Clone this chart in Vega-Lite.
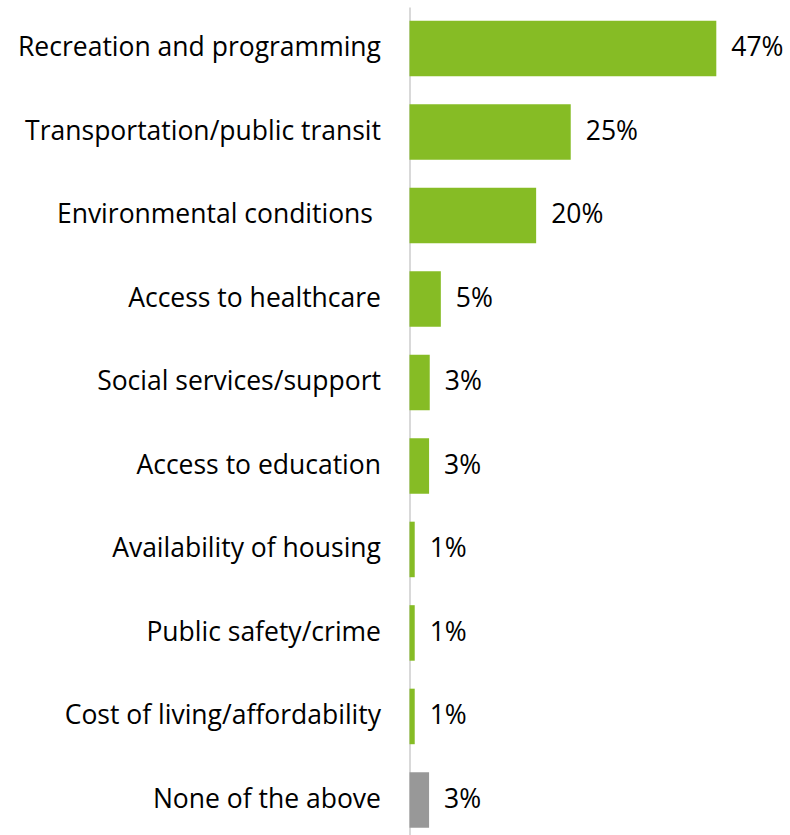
{
  "$schema": "https://vega.github.io/schema/vega-lite/v6.json",
  "autosize": "none",
  "width": 380.5,
  "height": 828,
  "padding": {"left": 409.5, "top": 7, "right": 0, "bottom": 0},
  "background": "white",
  "config": {"view": {"stroke": null}, "font": "Open Sans"},
  "data": {
    "values": [
      {"category": "Recreation and programming", "value": 47, "label": "47%", "group": "a"},
      {"category": "Transportation/public transit", "value": 24.7, "label": "25%", "group": "a"},
      {"category": "Environmental conditions", "value": 19.4, "label": "20%", "group": "a"},
      {"category": "Access to healthcare", "value": 4.8, "label": "5%", "group": "a"},
      {"category": "Social services/support", "value": 3.1, "label": "3%", "group": "a"},
      {"category": "Access to education", "value": 3.0, "label": "3%", "group": "a"},
      {"category": "Availability of housing", "value": 0.8, "label": "1%", "group": "a"},
      {"category": "Public safety/crime", "value": 0.8, "label": "1%", "group": "a"},
      {"category": "Cost of living/affordability", "value": 0.8, "label": "1%", "group": "a"},
      {"category": "None of the above", "value": 3.0, "label": "3%", "group": "b"}
    ]
  },
  "encoding": {
    "y": {
      "field": "category",
      "type": "nominal",
      "sort": null,
      "scale": {"range": [0, 834.4], "paddingInner": 0.335, "paddingOuter": 0.164},
      "axis": {
        "title": null,
        "ticks": false,
        "labelPadding": {"condition": {"test": "datum.value === 'Environmental conditions'", "value": 37}, "value": 29},
        "labelFontSize": 26.5,
        "labelColor": "#000000",
        "labelLimit": 0,
        "labelFont": "Open Sans",
        "domainColor": "#d9d9d9",
        "domainWidth": 2
      }
    },
    "x": {
      "field": "value",
      "type": "quantitative",
      "scale": {"domain": [0, 58.29]},
      "axis": null
    }
  },
  "layer": [
    {
      "mark": {"type": "bar"},
      "encoding": {
        "color": {
          "field": "group",
          "type": "nominal",
          "scale": {"domain": ["a", "b"], "range": ["#86BC25", "#989898"]},
          "legend": null
        }
      }
    },
    {
      "mark": {"type": "text", "align": "left", "baseline": "middle", "dx": 15, "fontSize": 26.5, "font": "Open Sans", "color": "#000000"},
      "encoding": {
        "text": {"field": "label"}
      }
    }
  ]
}
